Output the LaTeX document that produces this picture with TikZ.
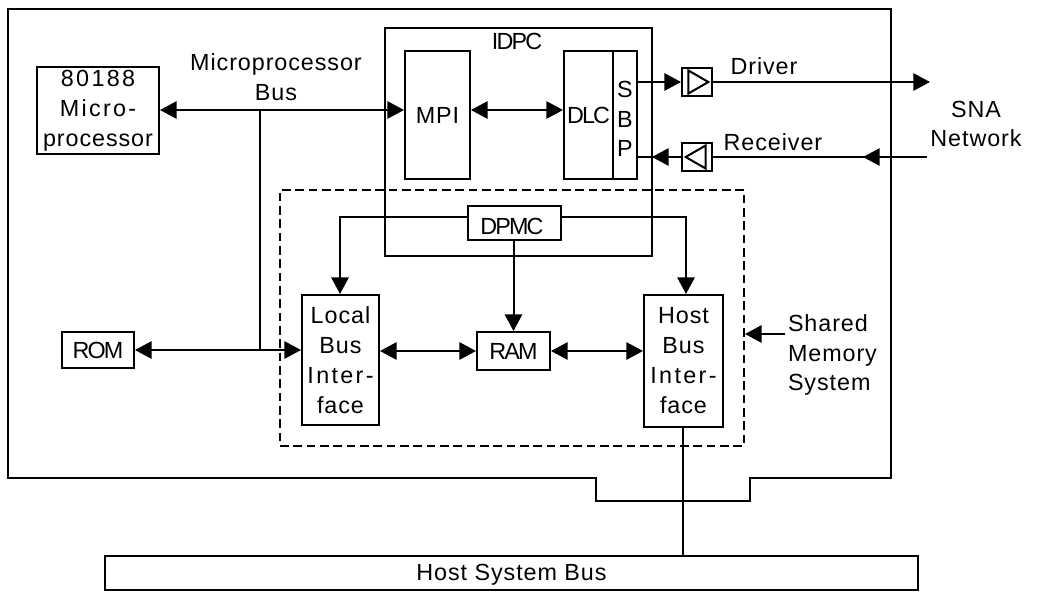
\documentclass[tikz,border=0pt]{standalone}
\usepackage{fontspec}
\setmainfont[LetterSpace=4]{Liberation Sans}
\newfontfamily\tightf[LetterSpace=-8]{Liberation Sans}
\newfontfamily\widef[LetterSpace=10]{Liberation Sans}
\usetikzlibrary{arrows.meta,shapes.geometric}

\begin{document}
\begin{tikzpicture}[x=.75pt,y=-.75pt,line width=1.5pt,
  sz/.style 2 args={minimum width=#1*.75pt,minimum height=#2*.75pt},
  b/.style={draw,inner sep=0pt,align=center,font=\fontsize{17.5pt}{22.5pt}\selectfont},
  t/.style={inner sep=0pt,align=center,font=\fontsize{17.5pt}{22pt}\selectfont},
  g/.style={draw,isosceles triangle,isosceles triangle apex angle=60,inner sep=0pt,minimum width=15pt,minimum height=15pt},
  a/.style={-{Triangle[length=12.5pt,width=13pt]}},
  aa/.style={{Triangle[length=12.5pt,width=13pt]}-{Triangle[length=12.5pt,width=13pt]}}]
\useasboundingbox (0,0) rectangle (1039,592);
% board outline
\draw (8,9) -- (891,9) -- (891,478) -- (750,478) -- (750,501) -- (596,501) -- (596,478) -- (8,478) -- cycle;
% chip and shared memory frames
\node[b,sz={267}{228}] (idpc) at (518.5,142) {};
\node[b,sz={464}{256},dash pattern=on 6.5pt off 3.5pt] (shm) at (512,318) {};
% blocks
\node[b,sz={122}{87}] (micro) at (98,110.5) {{\widef 80188}\\{\widef Micro-}\\processor};
\node[b,sz={65}{128}] (mpi) at (437.5,115) {MPI};
\node[b,sz={49}{128}] (dlc) at (588.5,115) {\tightf DLC};
\node[b,sz={24}{128}] (sbp) at (625,115) {};
\node[b,sz={72}{36}] (rom) at (98,350) {\tightf ROM};
\node[b,sz={93}{34}] (dpmc) at (514.5,223) {};
\node[b,sz={77}{130}] (local) at (340.5,360) {Local\\Bus\\{\widef Inter-}\\face};
\node[b,sz={73}{38}] (ram) at (513.5,351) {\tightf RAM};
\node[b,sz={79}{132}] (host) at (683.5,361) {Host\\Bus\\{\widef Inter-}\\face};
\node[b,sz={813}{34}] (sysbus) at (511.5,573) {};
% driver and receiver
\node[b,sz={30}{28}] (drv) at (697,82) {};
\node[b,sz={30}{28}] (rcv) at (697,157) {};
\node[g] (drvg) at (695,82) {};
\node[g,shape border rotate=180] (rcvg) at (699,157) {};
% labels
\node[t] (sbpt) at (625,119) {S\\B\\P};
\node[t] (dpmct) at (512,226) {\tightf DPMC};
\node[t] (syst) at (511.5,575) {Host System Bus};
\node[t] (idpct) at (517,41) {\tightf IDPC};
\node[t] (mbus) at (276,77) {Microprocessor\\Bus};
\node[t] (drvt) at (764,66) {Driver};
\node[t] (rcvt) at (773,142) {Receiver};
\node[t] (sna) at (976,124) {SNA\\Network};
\node[t,align=left,anchor=west] (shmt) at (787,355) {Shared\\Memory\\System};
% free ends and branch points
\coordinate (jb) at (260,110);
\coordinate (jr) at (260,350);
\coordinate (out) at (930,82);
\coordinate (in) at (927,157);
\coordinate (shmf) at (785,334);
\coordinate (dl) at (340,217);
\coordinate (dr) at (686,217);
\coordinate (tap) at (683,556);
% connectors
\draw[aa] (micro.east|-jb) -- (mpi.west|-jb);
\draw (jb) -- (jr);
\draw[aa] (rom.east) -- (local.west|-rom);
\draw[aa] (mpi.east|-jb) -- (dlc.west|-jb);
\draw[a] (sbp.east|-drv) -- (drv.west);
\draw[a] (drv.east) -- (out);
\draw[a] (in) -- (863,157);
\draw (in) -- (rcv.east);
\draw[a] (rcv.west) -- (652,157);
\draw (rcv.west) -- (sbp.east|-rcv);
\draw[a] (dpmc.west|-dl) -- (dl) -- (dl|-local.north);
\draw[a] (dpmc.east|-dr) -- (dr) -- (dr|-host.north);
\draw[a] (ram.north|-dpmc.south) -- (ram.north);
\draw[aa] (local.east|-ram) -- (ram.west);
\draw[aa] (ram.east) -- (host.west|-ram);
\draw (tap|-host.south) -- (tap);
\draw[a] (shmf) -- (shm.east|-shmf);
\end{tikzpicture}
\end{document}
